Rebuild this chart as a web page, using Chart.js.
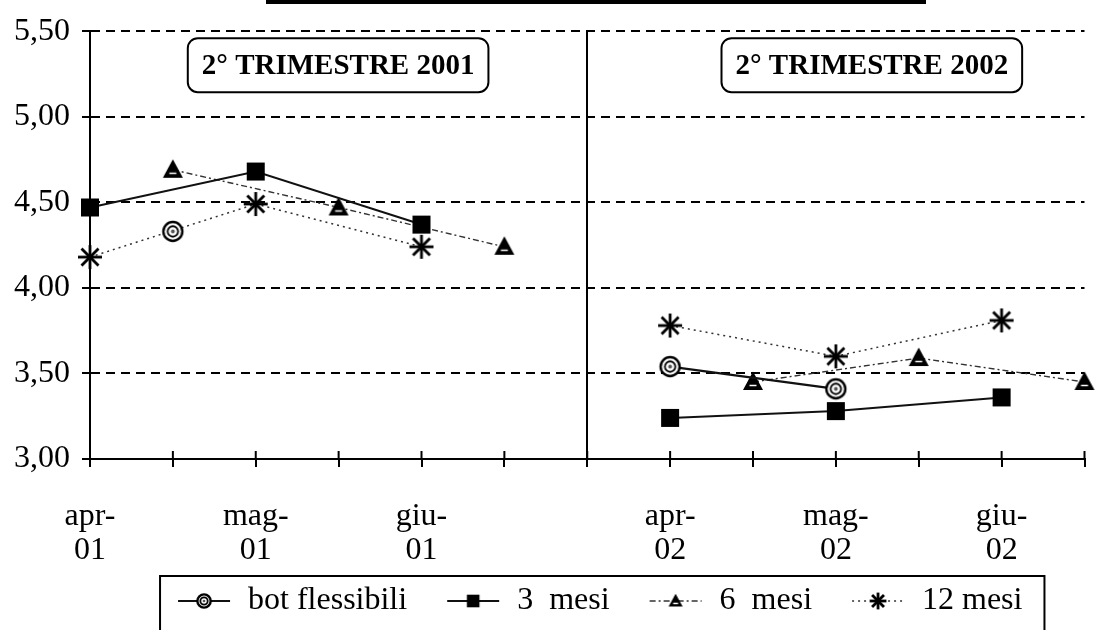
<!DOCTYPE html>
<html>
<head>
<meta charset="utf-8">
<script src="https://cdn.jsdelivr.net/npm/chart.js@4.4.1/dist/chart.umd.min.js"></script>
<style>
  html, body { margin: 0; padding: 0; background: #fff; }
</style>
</head>
<body>
<canvas id="rendimentiChart" width="1098" height="630"></canvas>
<script>
// categorie: mezzi mesi, indice 6 = separatore tra i due trimestri
var mesi = [['apr-', '01'], '', ['mag-', '01'], '', ['giu-', '01'], '', '',
            ['apr-', '02'], '', ['mag-', '02'], '', ['giu-', '02'], ''];

var botFlessibili = [null, 4.33, null, null, null, null, null, 3.54, null, 3.41, null, null, null];
var mesi3  = [4.47, null, 4.68, null, 4.37, null, null, 3.24, null, 3.28, null, 3.36, null];
var mesi6  = [null, 4.69, null, 4.47, null, 4.24, null, null, 3.45, null, 3.59, null, 3.45];
var mesi12 = [4.18, null, 4.49, null, 4.24, null, null, 3.78, null, 3.60, null, 3.81, null];

var periodi = ['2° TRIMESTRE 2001', '2° TRIMESTRE 2002'];

var serif = '"Liberation Serif", "Times New Roman", serif';

function drawMarker(c, kind, x, y, s) {
  c.save();
  c.setLineDash([]);
  c.strokeStyle = '#000';
  c.fillStyle = '#000';
  if (kind == 'bot') {
    c.beginPath(); c.arc(x, y, s, 0, Math.PI * 2);
    c.fillStyle = '#fff'; c.fill();
    c.lineWidth = 2.4; c.stroke();
    c.beginPath(); c.arc(x, y, s * 0.55, 0, Math.PI * 2);
    c.lineWidth = 1.8; c.stroke();
    c.beginPath(); c.arc(x, y, s * 0.2, 0, Math.PI * 2);
    c.fillStyle = '#555'; c.fill();
  } else if (kind == 'square') {
    c.fillRect(x - s, y - s, 2 * s, 2 * s);
  } else if (kind == 'triangle') {
    c.beginPath();
    c.moveTo(x, y - s * 1.05);
    c.lineTo(x + s, y + s * 0.8);
    c.lineTo(x - s, y + s * 0.8);
    c.closePath(); c.fill();
    c.strokeStyle = '#fff'; c.lineWidth = 1.5;
    c.beginPath(); c.moveTo(x - s * 0.35, y + s * 0.35); c.lineTo(x + s * 0.35, y + s * 0.35); c.stroke();
  } else if (kind == 'star') {
    c.lineWidth = 2.8;
    for (var a = 0; a < 4; a++) {
      var ang = a * Math.PI / 4;
      c.beginPath();
      c.moveTo(x - Math.cos(ang) * s, y - Math.sin(ang) * s);
      c.lineTo(x + Math.cos(ang) * s, y + Math.sin(ang) * s);
      c.stroke();
    }
  }
  c.restore();
}

function markerCanvas(kind, s) {
  var cv = document.createElement('canvas');
  cv.width = cv.height = Math.ceil(2 * s + 8);
  drawMarker(cv.getContext('2d'), kind, cv.width / 2, cv.height / 2, s);
  return cv;
}

// campione legenda: linea + marker, spazio vuoto a sinistra
function legendSample(kind, s, dash, width, color) {
  var cv = document.createElement('canvas');
  cv.width = 80; cv.height = 26;
  var c = cv.getContext('2d');
  c.strokeStyle = color; c.lineWidth = width; c.setLineDash(dash);
  c.beginPath(); c.moveTo(26, 13); c.lineTo(78, 13); c.stroke();
  drawMarker(c, kind, 52, 13, s);
  return cv;
}

var stili = [
  { label: 'bot flessibili', data: botFlessibili, kind: 'bot', size: 9.5, dash: [], width: 2.2, color: '#111' },
  { label: '3  mesi', data: mesi3, kind: 'square', size: 9, dash: [], width: 2, color: '#111' },
  { label: '6  mesi', data: mesi6, kind: 'triangle', size: 10, dash: [6, 3, 2, 3], width: 1.4, color: '#333' },
  { label: '12 mesi', data: mesi12, kind: 'star', size: 12, dash: [2, 4], width: 1.5, color: '#333' }
];

var legendSamples = stili.map(function(s) {
  return legendSample(s.kind, s.size * 0.7, s.dash, s.width, s.color);
});

var datasets = stili.map(function(s) {
  var punti = [];
  s.data.forEach(function(v, i) {
    if (v !== null) punti.push({ x: i, y: v });
  });
  return {
    label: s.label,
    data: punti,
    borderColor: s.color,
    borderWidth: s.width,
    borderDash: s.dash,
    pointStyle: markerCanvas(s.kind, s.size),
    pointRadius: s.size,
    spanGaps: 2,   // la linea si interrompe tra i due trimestri
    clip: false
  };
});

var decor = {
  id: 'decor',
  beforeDraw: function(chart) {
    var c = chart.ctx;
    c.save();
    c.fillStyle = '#fff';
    c.fillRect(0, 0, chart.width, chart.height);
    c.restore();
  },
  afterDraw: function(chart) {
    var c = chart.ctx, xs = chart.scales.x, area = chart.chartArea;
    c.save();
    c.strokeStyle = '#000';
    c.lineWidth = 2;
    c.setLineDash([]);
    // tacche che attraversano l'asse
    for (var i = 0; i < xs.ticks.length; i++) {
      var px = xs.getPixelForTick(i);
      c.beginPath(); c.moveTo(px, area.bottom - 8); c.lineTo(px, area.bottom); c.stroke();
    }
    // bordo inferiore del titolo tagliato
    c.fillStyle = '#000';
    c.fillRect(266, 0, 660, 4);

    // riquadri trimestri
    c.font = 'bold 29px ' + serif;
    c.textBaseline = 'middle';
    c.textAlign = 'left';
    var starts = [1.18, 7.62];
    periodi.forEach(function(t, k) {
      var left = xs.getPixelForValue(starts[k]);
      var w = c.measureText(t).width + 28;
      var top = area.top + 7, h = 54;
      c.beginPath();
      c.roundRect(left, top, w, h, 10);
      c.fillStyle = '#fff'; c.fill();
      c.lineWidth = 2; c.strokeStyle = '#000'; c.stroke();
      c.fillStyle = '#000';
      c.fillText(t, left + 14, top + h / 2 + 1);
    });

    // cornice legenda
    var lg = chart.legend;
    if (lg && lg.legendHitBoxes.length) {
      var hb = lg.legendHitBoxes;
      var l = hb[0].left + 8, r = hb[hb.length - 1].left + hb[hb.length - 1].width + 22;
      c.lineWidth = 2;
      c.strokeStyle = '#000';
      c.beginPath();
      c.moveTo(l, chart.height);
      c.lineTo(l, lg.top + 5);
      c.lineTo(r, lg.top + 5);
      c.lineTo(r, chart.height);
      c.stroke();
    }
    c.restore();
  }
};

var ctx = document.getElementById('rendimentiChart').getContext('2d');
var rendimentiChart = new Chart(ctx, {
  type: 'line',
  data: { datasets: datasets },
  plugins: [decor],
  options: {
    responsive: false,
    animation: false,
    layout: { padding: { top: 26, right: 8, left: 0, bottom: 3 } },
    plugins: {
      tooltip: { enabled: false },
      legend: {
        position: 'bottom',
        fullSize: false,
        labels: {
          usePointStyle: true,
          pointStyleWidth: 80,
          boxHeight: 26,
          padding: 14,
          color: '#000',
          font: { family: serif, size: 32 },
          generateLabels: function(chart) {
            return chart.data.datasets.map(function(ds, i) {
              return {
                text: ds.label,
                pointStyle: legendSamples[i],
                fillStyle: '#000',
                strokeStyle: '#000',
                lineWidth: 0,
                hidden: false,
                datasetIndex: i,
                fontColor: '#000'
              };
            });
          }
        }
      }
    },
    scales: {
      x: {
        type: 'linear',
        min: 0,
        max: mesi.length - 1,
        afterFit: function(scale) {
          scale.height = 112;
          scale.paddingLeft = 0;
          scale.paddingRight = 0;
        },
        grid: {
          drawOnChartArea: true,
          color: function(c) { return (c.tick && c.tick.value === 6) ? '#000' : 'transparent'; },
          tickColor: '#000',
          lineWidth: 2,
          tickLength: 8
        },
        border: { color: '#000', width: 2 },
        ticks: {
          stepSize: 1,
          autoSkip: false,
          maxRotation: 0,
          padding: 33,
          color: '#000',
          font: { family: serif, size: 32, lineHeight: 1.05 },
          callback: function(v) { return mesi[v]; }
        }
      },
      y: {
        min: 3,
        max: 5.5,
        afterFit: function(scale) { scale.width = 90; },
        grid: { color: '#000', lineWidth: 2, tickLength: 8, tickColor: '#000' },
        border: { color: '#000', width: 2, dash: [9, 6] },
        ticks: {
          stepSize: 0.5,
          padding: 12,
          color: '#000',
          font: { family: serif, size: 32 },
          callback: function(v) { return v.toFixed(2).replace('.', ','); }
        }
      }
    }
  }
});
</script>
</body>
</html>
